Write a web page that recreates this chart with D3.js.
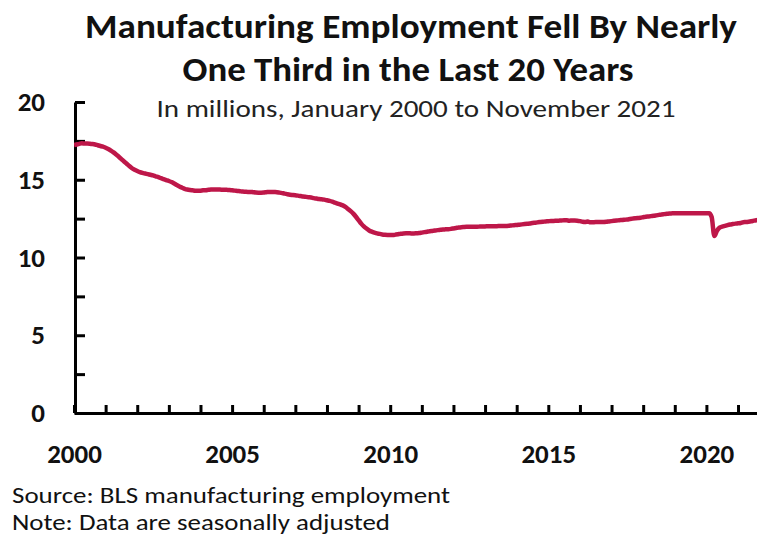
<!DOCTYPE html>
<html>
<head>
<meta charset="utf-8">
<script src="https://cdn.jsdelivr.net/npm/d3@7"></script>
<style>
  body { margin: 0; background: #fff; }
  svg { display: block; font-family: Carlito, Calibri, "Liberation Sans Narrow", "DejaVu Sans Condensed", "Liberation Sans", sans-serif; }
</style>
</head>
<body>
<svg id="chart" width="757" height="541"></svg>
<script>
// Monthly manufacturing employment, millions
var years = d3.range(2000, 2022);
var y2000 = [17.23, 17.27, 17.31, 17.34, 17.33, 17.33, 17.32, 17.30, 17.27, 17.22, 17.17, 17.13];
var y2001 = [17.06, 16.98, 16.88, 16.76, 16.62, 16.48, 16.33, 16.17, 16.03, 15.88, 15.74, 15.64];
var y2002 = [15.56, 15.49, 15.44, 15.40, 15.36, 15.32, 15.28, 15.22, 15.17, 15.10, 15.04, 14.98];
var y2003 = [14.92, 14.85, 14.76, 14.66, 14.57, 14.49, 14.42, 14.37, 14.34, 14.32, 14.30, 14.29];
var y2004 = [14.30, 14.32, 14.33, 14.35, 14.37, 14.38, 14.38, 14.37, 14.36, 14.36, 14.35, 14.34];
var y2005 = [14.32, 14.30, 14.28, 14.26, 14.24, 14.23, 14.22, 14.22, 14.20, 14.18, 14.17, 14.17];
var y2006 = [14.18, 14.20, 14.22, 14.22, 14.21, 14.20, 14.17, 14.14, 14.11, 14.07, 14.04, 14.02];
var y2007 = [14.00, 13.98, 13.95, 13.92, 13.90, 13.88, 13.86, 13.82, 13.79, 13.76, 13.74, 13.72];
var y2008 = [13.68, 13.64, 13.59, 13.53, 13.47, 13.41, 13.35, 13.25, 13.12, 12.98, 12.82, 12.62];
var y2009 = [12.40, 12.18, 12.00, 11.86, 11.74, 11.66, 11.60, 11.55, 11.52, 11.48, 11.46, 11.45];
var y2010 = [11.45, 11.44, 11.47, 11.50, 11.53, 11.55, 11.56, 11.56, 11.55, 11.55, 11.56, 11.57];
var y2011 = [11.60, 11.63, 11.66, 11.69, 11.71, 11.73, 11.76, 11.78, 11.80, 11.81, 11.82, 11.84];
var y2012 = [11.87, 11.90, 11.93, 11.95, 11.96, 11.97, 11.98, 11.98, 11.98, 11.98, 11.99, 12.00];
var y2013 = [12.00, 12.01, 12.01, 12.01, 12.01, 12.02, 12.02, 12.02, 12.03, 12.04, 12.06, 12.08];
var y2014 = [12.09, 12.11, 12.13, 12.15, 12.17, 12.19, 12.22, 12.24, 12.26, 12.28, 12.30, 12.32];
var y2015 = [12.33, 12.35, 12.35, 12.36, 12.37, 12.38, 12.40, 12.39, 12.37, 12.38, 12.38, 12.37];
var y2016 = [12.34, 12.30, 12.29, 12.31, 12.26, 12.27, 12.28, 12.28, 12.29, 12.29, 12.30, 12.32];
var y2017 = [12.34, 12.36, 12.38, 12.40, 12.41, 12.43, 12.45, 12.48, 12.50, 12.52, 12.54, 12.56];
var y2018 = [12.59, 12.62, 12.64, 12.66, 12.68, 12.71, 12.74, 12.77, 12.79, 12.81, 12.83, 12.84];
var y2019 = [12.85, 12.85, 12.84, 12.84, 12.85, 12.85, 12.85, 12.84, 12.84, 12.84, 12.84, 12.84];
var y2020 = [12.84, 12.85, 12.60, 11.38, 11.72, 11.92, 11.98, 12.03, 12.08, 12.12, 12.15, 12.18];
var y2021 = [12.20, 12.22, 12.27, 12.28, 12.30, 12.33, 12.37, 12.40, 12.44, 12.48, 12.52];
var yTicks = [0, 2.5, 5, 7.5, 10, 12.5, 15, 17.5, 20];
var xTicks = d3.range(2000, 2022);
var titleLines = ['Manufacturing  Employment Fell By Nearly', 'One Third in the Last 20 Years'];
var subtitle = 'In millions, January 2000 to November 2021';
var notes = ['Source: BLS manufacturing employment', 'Note: Data are seasonally adjusted'];

var drawChart = function () {
  let svg = d3.select('#chart');
  let width = +svg.attr('width');
  let height = +svg.attr('height');
  let lineColor = '#BE1749';

  // flatten the yearly arrays into one monthly series
  let series = [];
  [y2000, y2001, y2002, y2003, y2004, y2005, y2006, y2007, y2008, y2009, y2010,
   y2011, y2012, y2013, y2014, y2015, y2016, y2017, y2018, y2019, y2020, y2021]
    .forEach((vals, i) => {
      vals.forEach((v, m) => series.push({ t: years[i] + m / 12, v: v }));
    });

  // plot area runs off the right edge, like the reference
  const x = d3.scaleLinear().domain([2000, 2021.6]).range([74, 757]);
  const y = d3.scaleLinear().domain([0, 20]).range([413, 102]);

  svg.append('rect').attr('width', width).attr('height', height).attr('fill', '#fff');

  svg.append('clipPath').attr('id', 'plot-clip')
    .append('rect').attr('x', 74).attr('y', 0).attr('width', width - 74).attr('height', height);

  // title + subtitle
  svg.selectAll('text.title')
    .data(titleLines)
    .enter().append('text')
    .attr('class', 'title')
    .attr('x', (d, i) => i ? 408 : 411)
    .attr('y', (d, i) => 38 + i * 43)
    .attr('text-anchor', 'middle')
    .attr('font-size', 35)
    .attr('font-weight', 'bold')
    .attr('fill', '#111')
    .attr('textLength', (d, i) => i ? 451 : 652)
    .attr('lengthAdjust', 'spacingAndGlyphs')
    .text(d => d);

  svg.append('text')
    .attr('x', 416).attr('y', 117)
    .attr('text-anchor', 'middle')
    .attr('font-size', 24)
    .attr('fill', '#222')
    .attr('textLength', 519)
    .attr('lengthAdjust', 'spacingAndGlyphs')
    .text(subtitle);

  // y axis: ticks point inward, labels every 5
  let yAxis = svg.append('g')
    .attr('transform', 'translate(75,0)')
    .call(d3.axisLeft(y)
      .tickValues(yTicks)
      .tickSizeInner(-10)
      .tickSizeOuter(0)
      .tickPadding(30)
      .tickFormat(d => d % 5 === 0 ? d : ''));

  // x axis: yearly ticks pointing up, labels every 5 years
  let xAxis = svg.append('g')
    .attr('transform', 'translate(0,413)')
    .call(d3.axisBottom(x)
      .tickValues(xTicks)
      .tickSizeInner(-8)
      .tickSizeOuter(0)
      .tickPadding(31)
      .tickFormat(d => d % 5 === 0 ? d : ''));

  [yAxis, xAxis].forEach(g => {
    g.attr('font-family', null).attr('font-size', null);
    g.select('.domain').attr('stroke', '#000').attr('stroke-width', 3);
    g.selectAll('.tick line').attr('stroke', '#000').attr('stroke-width', 3);
    g.selectAll('.tick text')
      .attr('font-size', 27)
      .attr('font-weight', 'bold')
      .attr('fill', '#111');
  });

  // the series line
  const line = d3.line()
    .x(d => x(d.t))
    .y(d => y(d.v))
    .curve(d3.curveMonotoneX);

  svg.append('path')
    .datum(series)
    .attr('clip-path', 'url(#plot-clip)')
    .attr('d', line)
    .attr('fill', 'none')
    .attr('stroke', lineColor)
    .attr('stroke-width', 4.5)
    .attr('stroke-linejoin', 'round');

  // footnotes
  svg.selectAll('text.note')
    .data(notes)
    .enter().append('text')
    .attr('class', 'note')
    .attr('x', 12)
    .attr('y', (d, i) => 503 + i * 27)
    .attr('font-size', 23)
    .attr('fill', '#111')
    .attr('textLength', (d, i) => i ? 378 : 438)
    .attr('lengthAdjust', 'spacingAndGlyphs')
    .text(d => d);
};

document.addEventListener('DOMContentLoaded', function () {
  drawChart();
}, false);
</script>
</body>
</html>
